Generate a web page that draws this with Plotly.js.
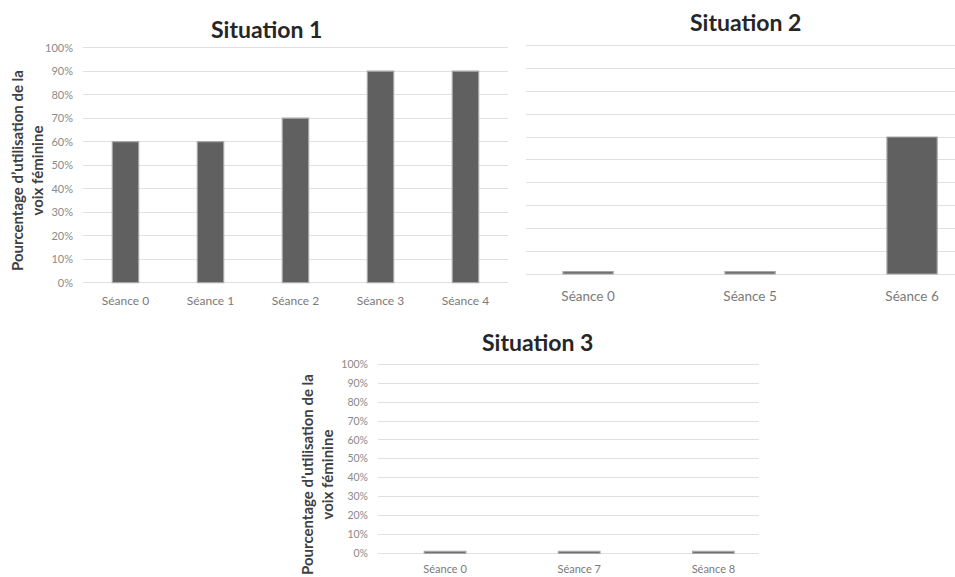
<!DOCTYPE html>
<html>
<head>
<meta charset="utf-8">
<script src="https://cdn.plot.ly/plotly-3.0.1.min.js"></script>
<style>html,body{margin:0;padding:0;background:#fff;}#chart{width:955px;height:577px;}</style>
</head>
<body>
<div id="chart"></div>
<script>
// Data
var cats1 = ["Séance 0", "Séance 1", "Séance 2", "Séance 3", "Séance 4"];
var vals1 = [0.60, 0.60, 0.70, 0.90, 0.90];
var cats2 = ["Séance 0", "Séance 5", "Séance 6"];
var vals2 = [0.01, 0.01, 0.60];
var cats3 = ["Séance 0", "Séance 7", "Séance 8"];
var vals3 = [0.01, 0.01, 0.01];
var titles = ["Situation 1", "Situation 2", "Situation 3"];
var yTitle = "Pourcentage d\u2019utilisation de la<br>voix féminine";

var W = 955, H = 577;
function px(x) { return x / W; }
function py(y) { return 1 - y / H; }

var barColor = "#606060";
var barLine = {color: "#a6a6a6", width: 1.2};
var FONT = "Lato, 'Open Sans', sans-serif";

var traces = [
  {type: "bar", x: cats1, y: vals1, xaxis: "x", yaxis: "y", marker: {color: barColor, line: barLine}, hoverinfo: "skip"},
  {type: "bar", x: cats2, y: vals2, xaxis: "x2", yaxis: "y2", marker: {color: barColor, line: barLine}, hoverinfo: "skip"},
  {type: "bar", x: cats3, y: vals3, xaxis: "x3", yaxis: "y3", marker: {color: barColor, line: barLine}, hoverinfo: "skip"}
];

var gridCol = "#e0e0e0";
var PADPX = 3;
function xax(domain, range, size, standoff) {
  return {domain: domain, range: range, type: "category", showgrid: false, zeroline: false, showline: false,
          ticks: "", tickfont: {family: FONT, size: size, color: "#7a7a7a"},
          ticklabelstandoff: standoff, fixedrange: true};
}
// y0px: pixel row of 0%, y1px: pixel row of 100%
function yax(y0px, y1px, anchor, showLabels, size) {
  var L = y0px - y1px, f = PADPX / L;
  return {domain: [py(y0px + PADPX), py(y1px - PADPX)], anchor: anchor, range: [-f, 1 + f],
          dtick: 0.1, tick0: 0, tickformat: ".0%",
          showgrid: true, gridcolor: gridCol, gridwidth: 1, zeroline: false, showline: false,
          showticklabels: showLabels, ticks: "", tickfont: {family: FONT, size: size, color: "#8a8a8a"},
          ticklabelstandoff: 9, fixedrange: true};
}

var layout = {
  width: W, height: H,
  margin: {l: 0, r: 0, t: 0, b: 0},
  paper_bgcolor: "#ffffff", plot_bgcolor: "#ffffff",
  showlegend: false,
  bargap: 0.69,
  xaxis: Object.assign(xax([px(83), px(508)], [-0.5, 4.5], 12, 6), {anchor: "y"}),
  yaxis: yax(282.7, 47.7, "x", true, 11),
  xaxis2: Object.assign(xax([px(526), 1], [-0.383, 2.265], 13.5, 9), {anchor: "y2"}),
  yaxis2: yax(274, 45.7, "x2", false, 11),
  xaxis3: Object.assign(xax([px(378), px(759)], [-0.5, 2.34], 11, 5), {anchor: "y3"}),
  yaxis3: yax(553.3, 364.3, "x3", true, 10.5),
  annotations: [
    {text: "<b>" + titles[0] + "</b>", xref: "paper", yref: "paper", x: px(266), y: py(29), showarrow: false,
     font: {family: FONT, size: 23, color: "#262626"}, xanchor: "center", yanchor: "middle"},
    {text: "<b>" + titles[1] + "</b>", xref: "paper", yref: "paper", x: px(745), y: py(22), showarrow: false,
     font: {family: FONT, size: 23, color: "#262626"}, xanchor: "center", yanchor: "middle"},
    {text: "<b>" + titles[2] + "</b>", xref: "paper", yref: "paper", x: px(537), y: py(342), showarrow: false,
     font: {family: FONT, size: 23, color: "#262626"}, xanchor: "center", yanchor: "middle"},
    {text: "<b>" + yTitle + "</b>", xref: "paper", yref: "paper", x: px(27), y: py(171), textangle: -90, showarrow: false,
     font: {family: FONT, size: 15, color: "#404040"}, xanchor: "center", yanchor: "middle"},
    {text: "<b>" + yTitle + "</b>", xref: "paper", yref: "paper", x: px(317), y: py(475), textangle: -90, showarrow: false,
     font: {family: FONT, size: 15, color: "#404040"}, xanchor: "center", yanchor: "middle"}
  ]
};

Plotly.newPlot("chart", traces, layout, {displayModeBar: false, staticPlot: true});
</script>
</body>
</html>
